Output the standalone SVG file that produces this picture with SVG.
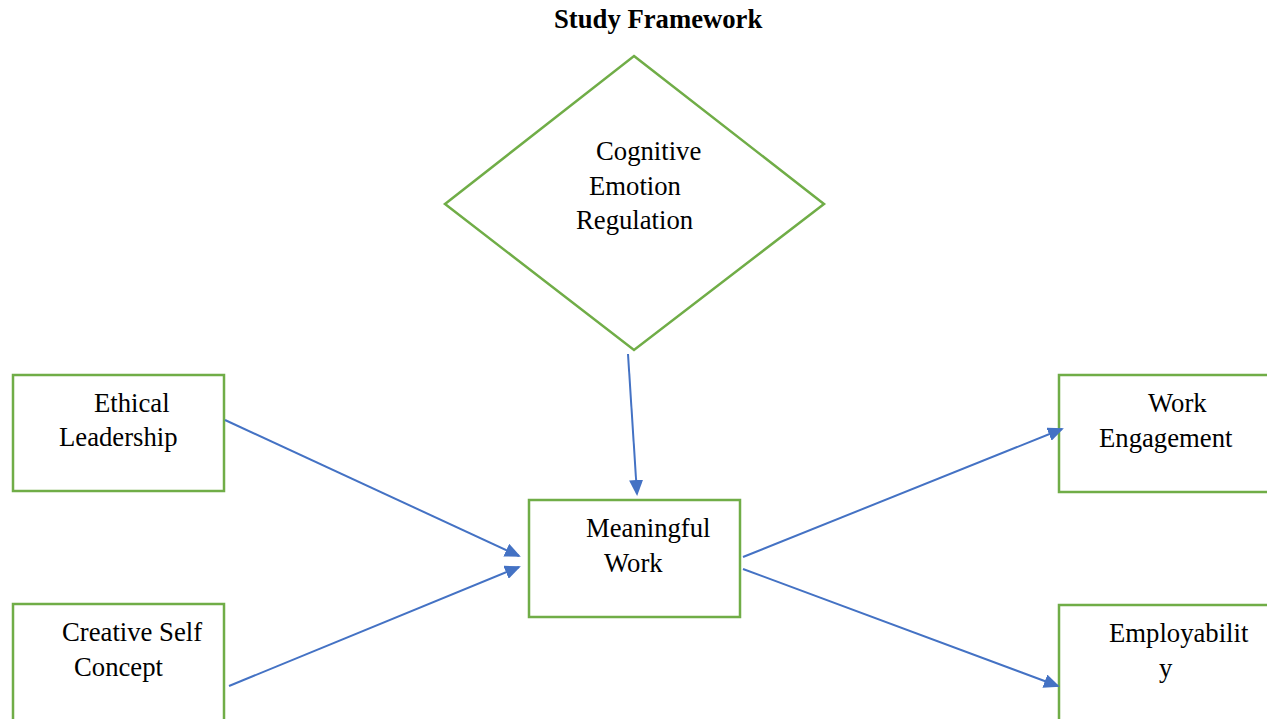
<svg xmlns="http://www.w3.org/2000/svg" width="1267" height="719" viewBox="0 0 1267 719">
<style>
.node{fill:#fff;stroke:#70AD47;stroke-width:2.5}
.t{font-family:"Liberation Serif","Times New Roman",serif;font-size:26.7px;fill:#000}
.title{font-weight:bold}
.c{stroke:#4472C4;stroke-width:2;fill:none;marker-end:url(#ah)}
</style>
<defs>
<marker id="ah" markerUnits="userSpaceOnUse" markerWidth="16" markerHeight="14" refX="14" refY="7" orient="auto">
<path d="M0,0 L16,7 L0,14 Z" fill="#4472C4"/>
</marker>
</defs>
<rect width="1267" height="719" fill="#fff"/>
<text class="t title" x="554" y="28">Study Framework</text>
<g id="cer">
<polygon class="node" points="634,56 824,204 634,350 445,204"/>
<text class="t" x="596" y="160">Cognitive</text>
<text class="t" x="589" y="195">Emotion</text>
<text class="t" x="576" y="229">Regulation</text>
</g>
<g id="el">
<rect class="node" x="13" y="375" width="211" height="116"/>
<text class="t" x="94" y="412">Ethical</text>
<text class="t" x="59" y="446">Leadership</text>
</g>
<g id="csc">
<rect class="node" x="13" y="604" width="211" height="130"/>
<text class="t" x="62" y="641">Creative Self</text>
<text class="t" x="74" y="676">Concept</text>
</g>
<g id="mw">
<rect class="node" x="529" y="500" width="211" height="117"/>
<text class="t" x="586" y="537">Meaningful</text>
<text class="t" x="604" y="572">Work</text>
</g>
<g id="we">
<rect class="node" x="1059" y="375" width="230" height="117"/>
<text class="t" x="1148" y="412">Work</text>
<text class="t" x="1099" y="447">Engagement</text>
</g>
<g id="emp">
<rect class="node" x="1059" y="605" width="230" height="130"/>
<text class="t" x="1109" y="642">Employabilit</text>
<text class="t" x="1159" y="677">y</text>
</g>
<g id="connectors">
<line class="c" x1="225" y1="420" x2="519" y2="556"/>
<line class="c" x1="229" y1="686" x2="519" y2="567"/>
<line class="c" x1="628" y1="354" x2="637" y2="494"/>
<line class="c" x1="743" y1="557" x2="1062" y2="429"/>
<line class="c" x1="743" y1="569" x2="1058" y2="686"/>
</g>
</svg>
